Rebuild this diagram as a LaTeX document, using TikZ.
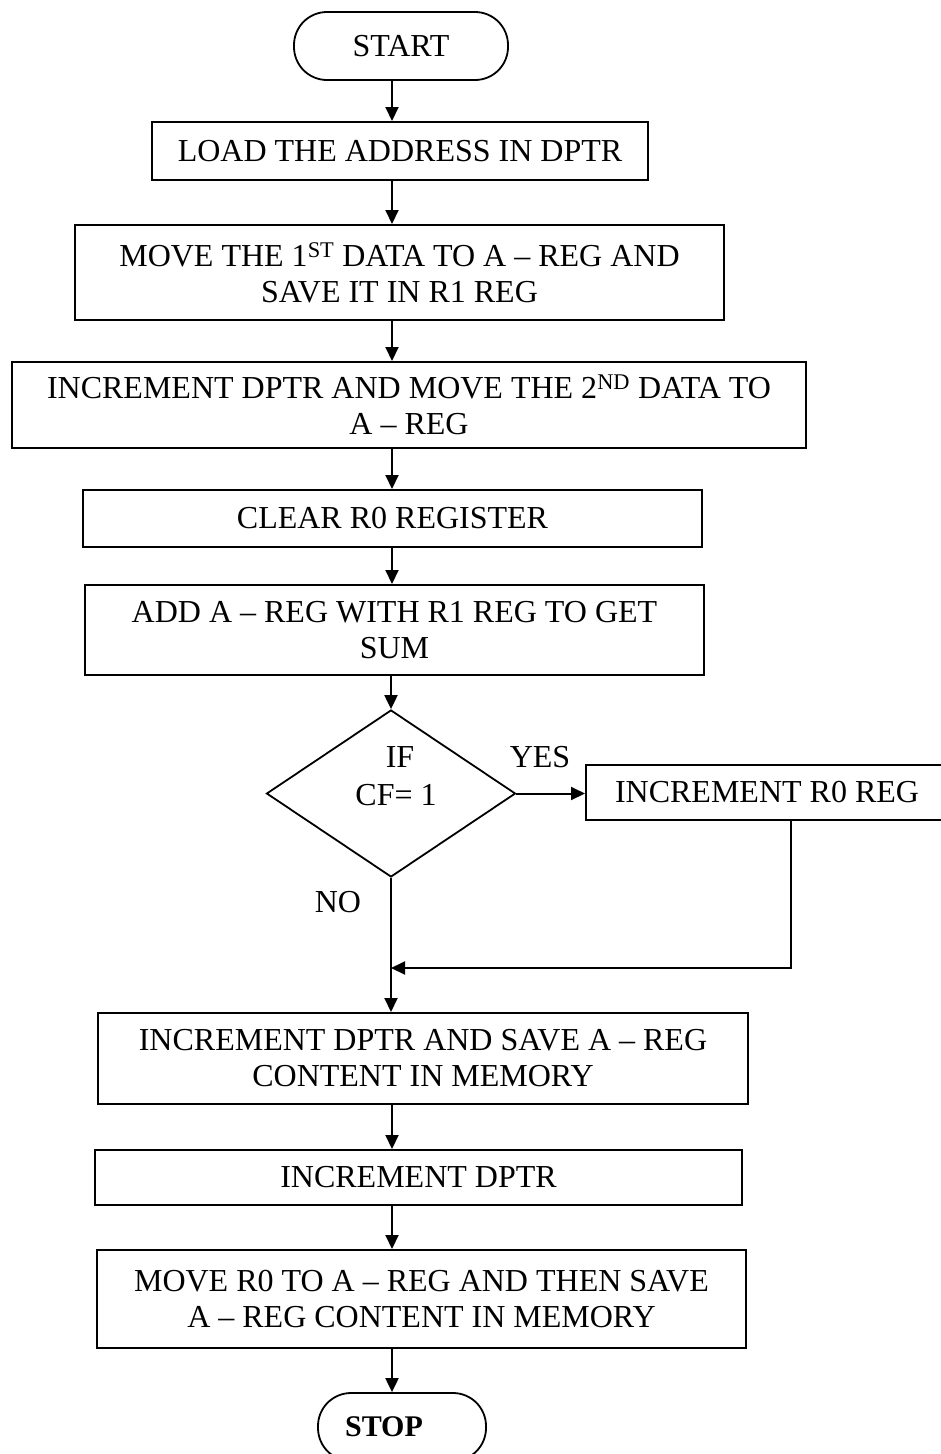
\documentclass[tikz,border=0pt]{standalone}
\usepackage{fontspec}
\setmainfont{Liberation Serif}
\usetikzlibrary{shapes.geometric,arrows.meta}

\begin{document}
\begin{tikzpicture}[x=1pt,y=-1pt,
    every node/.style={font=\fontsize{32}{36}\selectfont, inner sep=0pt, align=center},
    stepbox/.style={draw, line width=2pt, rectangle},
    terminal/.style={draw, line width=1.8pt, rectangle, rounded corners=33pt},
    decision/.style={draw, line width=1.8pt, diamond, aspect=1.49},
    flow/.style={line width=2pt, -{Triangle[length=14pt,width=13pt]}},
    lbl/.style={font=\fontsize{32}{36}\selectfont}]
  \useasboundingbox (0,0) rectangle (941,1454);
  \clip (0,0) rectangle (941,1454);

  % main column
  \coordinate (axis) at (392,0);

  \node[terminal, minimum width=214pt, minimum height=68pt] (start) at (401,46) {START};
  \node[stepbox, minimum width=496pt, minimum height=58pt] (load) at (400,151)
    {LOAD THE ADDRESS IN DPTR};
  \node[stepbox, minimum width=649pt, minimum height=95pt] (move1) at (399.5,272.5)
    {MOVE THE 1\textsuperscript{ST} DATA TO A -- REG AND\\SAVE IT IN R1 REG};
  \node[stepbox, minimum width=794pt, minimum height=86pt] (move2) at (409,405)
    {INCREMENT DPTR AND MOVE THE 2\textsuperscript{ND} DATA TO\\A -- REG};
  \node[stepbox, minimum width=619pt, minimum height=57pt] (clear) at (392.5,518.5)
    {CLEAR R0 REGISTER};
  \node[stepbox, minimum width=619pt, minimum height=90pt] (add) at (394.5,630)
    {ADD A -- REG WITH R1 REG TO GET\\SUM};
  \node[decision, minimum width=249pt, minimum height=167pt] (cf) at (391,793.5) {};
  \node at (400,757) {IF};
  \node at (396,795) {CF= 1};
  \node[stepbox, minimum width=362pt, minimum height=55pt] (incr0) at (767,792.5)
    {INCREMENT R0 REG};
  \node[stepbox, minimum width=650pt, minimum height=91pt] (save1) at (423,1058.5)
    {INCREMENT DPTR AND SAVE A -- REG\\CONTENT IN MEMORY};
  \node[stepbox, minimum width=647pt, minimum height=55pt] (incdptr) at (418.5,1177.5)
    {INCREMENT DPTR};
  \node[stepbox, minimum width=649pt, minimum height=98pt] (save2) at (421.5,1299)
    {MOVE R0 TO A -- REG AND THEN SAVE\\A -- REG CONTENT IN MEMORY};
  \node[terminal, minimum width=168pt, minimum height=68pt, font=\bfseries\fontsize{30}{36}\selectfont]
    (stop) at (402,1427) {STOP\hspace*{36pt}};

  % branch labels
  \node[lbl] (yes) at (540,757) {YES};
  \node[lbl] (no) at (338,902) {NO};

  % connectors
  \draw[flow] (start.south -| axis) -- (load.north -| axis);
  \draw[flow] (load.south -| axis) -- (move1.north -| axis);
  \draw[flow] (move1.south -| axis) -- (move2.north -| axis);
  \draw[flow] (move2.south -| axis) -- (clear.north -| axis);
  \draw[flow] (clear.south -| axis) -- (add.north -| axis);
  \draw[flow] (add.south -| cf) -- (cf.north);
  \draw[flow] (cf.east) -- (incr0.west |- cf.east);
  \coordinate (join) at (391,968);
  \coordinate (back) at (791,968);
  \draw[flow] (incr0.south -| back) -- (back) -- (join);
  \draw[flow] (cf.south) -- (save1.north -| cf.south);
  \draw[flow] (save1.south -| axis) -- (incdptr.north -| axis);
  \draw[flow] (incdptr.south -| axis) -- (save2.north -| axis);
  \draw[flow] (save2.south -| axis) -- (stop.north -| axis);
\end{tikzpicture}
\end{document}
